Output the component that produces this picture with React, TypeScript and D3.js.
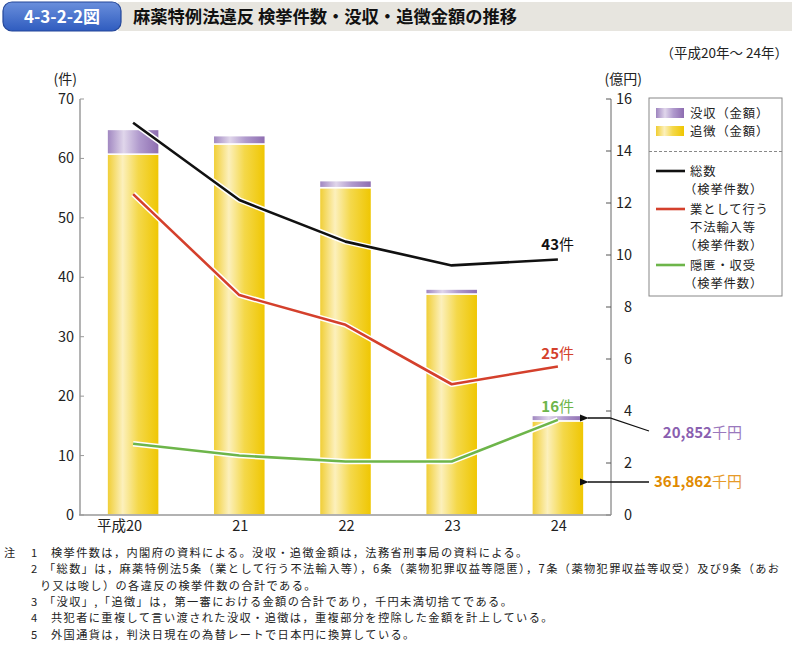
import React from "react";
import * as d3 from "d3";

const years = ["20", "21", "22", "23", "24"];
const yearPrefix = "平成";
const tsuichou = [13.88, 14.27, 12.59, 8.5, 3.62]; // 追徴 (億円)
const bosshu = [0.95, 0.32, 0.27, 0.19, 0.21]; // 没収 (億円)
const totalCases = [66, 53, 46, 42, 43];
const importCases = [54, 37, 32, 22, 25];
const concealCases = [12, 10, 9, 9, 16];
const leftTicks = [0, 10, 20, 30, 40, 50, 60, 70];
const rightTicks = [0, 2, 4, 6, 8, 10, 12, 14, 16];
const notes = [
  ["注", "1", "検挙件数は，内閣府の資料による。没収・追徴金額は，法務省刑事局の資料による。"],
  ["", "2", "「総数」は，麻薬特例法5条（業として行う不法輸入等），6条（薬物犯罪収益等隠匿），7条（薬物犯罪収益等収受）及び9条（あお"],
  ["", "", "り又は唆し）の各違反の検挙件数の合計である。"],
  ["", "3", "「没収」,「追徴」は，第一審における金額の合計であり，千円未満切捨てである。"],
  ["", "4", "共犯者に重複して言い渡された没収・追徴は，重複部分を控除した金額を計上している。"],
  ["", "5", "外国通貨は，判決日現在の為替レートで日本円に換算している。"],
];

const FONT = "'Noto Sans CJK JP', 'Noto Sans', sans-serif";
const BLACK = "#111";
const RED = "#d4402c";
const GREEN = "#6db54a";
const PURPLE_T = "#8a5fb0";
const ORANGE_T = "#e08a00";

export default function App() {
  const left = 80, right = 611, top = 99, bottom = 515;
  const x = d3.scaleBand<string>().domain(years).range([left, right]).paddingInner(0.51).paddingOuter(0.255);
  const yL = d3.scaleLinear().domain([0, 70]).range([bottom, top]);
  const yR = d3.scaleLinear().domain([0, 16]).range([bottom, top]);
  const cx = (i: number) => (x(years[i]) as number) + x.bandwidth() / 2;
  const line = d3.line<number>().x((_, i) => cx(i)).y((d) => yL(d));

  const series = [
    { data: totalCases, color: BLACK },
    { data: importCases, color: RED },
    { data: concealCases, color: GREEN },
  ];
  const last = years.length - 1;
  const barRight = cx(last) + x.bandwidth() / 2;
  const LF = 12.3;
  const LS = 0.9;

  return (
    <div style={{ position: "absolute", left: 0, top: 0 }}>
      <svg width={792} height={646} style={{ display: "block", fontFamily: FONT }}>
        <defs>
          <linearGradient id="gy" x1="0" x2="1" y1="0" y2="0">
            <stop offset="0" stopColor="#f0cd30" />
            <stop offset="0.3" stopColor="#fcf0bc" />
            <stop offset="0.6" stopColor="#f4d84a" />
            <stop offset="1" stopColor="#efc600" />
          </linearGradient>
          <linearGradient id="gp" x1="0" x2="1" y1="0" y2="0">
            <stop offset="0" stopColor="#9e84bf" />
            <stop offset="0.32" stopColor="#e0d6eb" />
            <stop offset="0.62" stopColor="#b09acd" />
            <stop offset="1" stopColor="#8d6cb0" />
          </linearGradient>
          <linearGradient id="gb" x1="0" x2="0" y1="0" y2="1">
            <stop offset="0" stopColor="#6a8fdc" />
            <stop offset="1" stopColor="#2f5cbf" />
          </linearGradient>
          <marker id="arr" viewBox="0 0 10 10" refX="1" refY="5" markerWidth="9" markerHeight="9" orient="auto-start-reverse" markerUnits="userSpaceOnUse">
            <path d="M10,1 L0,5 L10,9 Z" fill="#111" />
          </marker>
        </defs>

        {/* header */}
        <rect x={118} y={2} width={674} height={29} fill="#e7e5df" />
        <rect x={3} y={2} width={118} height={29} rx={9} fill="url(#gb)" stroke="#24479a" strokeWidth={1.2} />
        <text x={62} y={22.5} textAnchor="middle" fill="#fff" fontWeight="bold" fontSize={17}>4-3-2-2図</text>
        <text x={133} y={22.5} fill="#111" fontWeight="bold" fontSize={17.3}>麻薬特例法違反 検挙件数・没収・追徴金額の推移</text>
        <text x={788} y={58} textAnchor="end" fill="#222" fontSize={13.5}>（平成20年～ 24年）</text>

        {/* axis titles */}
        <text x={77} y={84} textAnchor="end" fill="#222" fontSize={14}>(件)</text>
        <text x={642} y={84} textAnchor="end" fill="#222" fontSize={14}>(億円)</text>

        {/* bars */}
        {years.map((yr, i) => {
          const bx = x(yr) as number;
          const w = x.bandwidth();
          const yTop1 = yR(tsuichou[i]);
          const yTop2 = yR(tsuichou[i] + bosshu[i]);
          return (
            <g key={yr}>
              <rect x={bx} y={yTop1} width={w} height={bottom - yTop1} fill="url(#gy)" stroke="#fff" strokeWidth={1.5} />
              <rect x={bx} y={yTop2} width={w} height={yTop1 - yTop2} fill="url(#gp)" stroke="#fff" strokeWidth={1.5} />
            </g>
          );
        })}

        {/* axes */}
        <line x1={left} x2={left} y1={top} y2={bottom} stroke="#b4b4b4" strokeWidth={2} />
        {leftTicks.map((t) => (
          <g key={"l" + t}>
            <line x1={left} x2={left + 4} y1={yL(t)} y2={yL(t)} stroke="#999" strokeWidth={1} />
            <text x={74} y={yL(t) + 5} textAnchor="end" fontSize={14.5} fill="#222">{t}</text>
          </g>
        ))}
        <line x1={right} x2={right} y1={top} y2={bottom} stroke="#666" strokeWidth={1} />
        {rightTicks.map((t) => (
          <g key={"r" + t}>
            <line x1={right - 5} x2={right} y1={yR(t)} y2={yR(t)} stroke="#555" strokeWidth={1} />
            <text x={632} y={yR(t) + 5} textAnchor="end" fontSize={14.5} fill="#222">{t}</text>
          </g>
        ))}
        <line x1={left - 1} x2={right} y1={bottom} y2={bottom} stroke="#999" strokeWidth={1.5} />
        {years.map((yr, i) => (
          <text key={"x" + yr} x={cx(i) + 9} y={531} textAnchor="end" fontSize={14.5} fill="#222">
            {i === 0 ? yearPrefix + yr : yr}
          </text>
        ))}

        {/* lines */}
        {series.map((s, k) => (
          <g key={"s" + k}>
            <path d={line(s.data) as string} fill="none" stroke="#fff" strokeWidth={5.5} strokeLinejoin="round" />
            <path d={line(s.data) as string} fill="none" stroke={s.color} strokeWidth={2.6} strokeLinejoin="round" />
          </g>
        ))}

        {/* end labels */}
        <text x={574} y={250} textAnchor="end" fill={BLACK} fontSize={15}>
          <tspan fontWeight="bold">{totalCases[last]}</tspan><tspan>件</tspan>
        </text>
        <text x={574} y={359} textAnchor="end" fill={RED} fontSize={15}>
          <tspan fontWeight="bold">{importCases[last]}</tspan><tspan>件</tspan>
        </text>
        <text x={574} y={412} textAnchor="end" fill={GREEN} fontSize={15}>
          <tspan fontWeight="bold">{concealCases[last]}</tspan><tspan>件</tspan>
        </text>

        {/* arrows */}
        <polyline points={`649,431 610,418 ${barRight + 4},418`} fill="none" stroke="#111" strokeWidth={1.3} markerEnd="url(#arr)" />
        <line x1={649} y1={482} x2={barRight + 4} y2={482} stroke="#111" strokeWidth={1.3} markerEnd="url(#arr)" />
        <text x={742} y={438} textAnchor="end" fill={PURPLE_T} fontSize={15}>
          <tspan fontWeight="bold">20,852</tspan><tspan fill="#9a78bd">千円</tspan>
        </text>
        <text x={742} y={487} textAnchor="end" fill={ORANGE_T} fontSize={15}>
          <tspan fontWeight="bold">361,862</tspan><tspan fill="#e69a2a">千円</tspan>
        </text>

        {/* legend */}
        <rect x={649} y={98} width={133} height={198} fill="#fff" stroke="#888" strokeWidth={1} />
        <rect x={656} y={108} width={28} height={10} fill="url(#gp)" />
        <text x={690} y={117.5} fontSize={LF} letterSpacing={LS} fill="#222">没収（金額）</text>
        <rect x={656} y={126} width={28} height={10} fill="url(#gy)" />
        <text x={690} y={135.5} fontSize={LF} letterSpacing={LS} fill="#222">追徴（金額）</text>
        <line x1={649} x2={782} y1={151.5} y2={151.5} stroke="#888" strokeDasharray="3,2" strokeWidth={1} />
        <line x1={656} x2={685} y1={171} y2={171} stroke={BLACK} strokeWidth={2.6} />
        <text x={690} y={175.5} fontSize={LF} letterSpacing={LS} fill="#222">総数</text>
        <text x={684} y={193.5} fontSize={LF} letterSpacing={LS} fill="#222">（検挙件数）</text>
        <line x1={656} x2={685} y1={209} y2={209} stroke={RED} strokeWidth={2.6} />
        <text x={690} y={213.5} fontSize={LF} letterSpacing={LS} fill="#222">業として行う</text>
        <text x={690} y={231.5} fontSize={LF} letterSpacing={LS} fill="#222">不法輸入等</text>
        <text x={684} y={249.5} fontSize={LF} letterSpacing={LS} fill="#222">（検挙件数）</text>
        <line x1={656} x2={685} y1={265} y2={265} stroke={GREEN} strokeWidth={2.6} />
        <text x={690} y={269.5} fontSize={LF} letterSpacing={LS} fill="#222">隠匿・収受</text>
        <text x={684} y={287.5} fontSize={LF} letterSpacing={LS} fill="#222">（検挙件数）</text>

        {/* notes */}
        {notes.map((n, i) => (
          <g key={"n" + i} fontSize={11.2} fill="#222">
            {n[0] && <text x={4} y={557 + i * 16.3}>{n[0]}</text>}
            {n[1] && <text x={31} y={557 + i * 16.3}>{n[1]}</text>}
            <text x={i === 2 ? 40 : n[2].startsWith("「") ? 44 : 51} y={557 + i * 16.3} letterSpacing={1.4}>{n[2]}</text>
          </g>
        ))}
      </svg>
    </div>
  );
}
